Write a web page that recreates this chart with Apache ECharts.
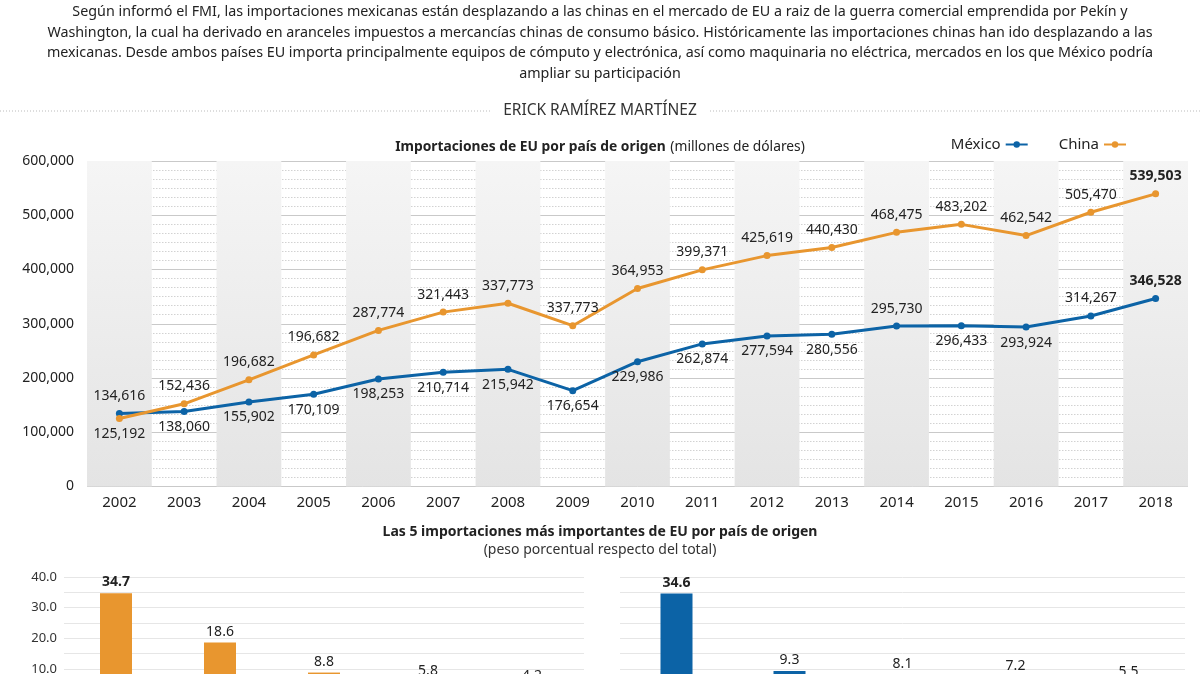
<!DOCTYPE html>
<html>
<head>
<meta charset="utf-8">
<script src="https://cdn.jsdelivr.net/npm/echarts@6/dist/echarts.min.js"></script>
<style>
html,body{margin:0;padding:0;background:#fff;overflow:hidden;}
#chart{width:1200px;height:702px;}
</style>
</head>
<body>
<div id="chart"></div>
<script>
// ---- data ----
const years = ['2002','2003','2004','2005','2006','2007','2008','2009','2010','2011','2012','2013','2014','2015','2016','2017','2018'];
const mexicoValues = [134616,138060,155902,170109,198253,210714,215942,176654,229986,262874,277594,280556,295730,296433,293924,314267,346528];
const chinaValues  = [125192,152436,196682,242500,287774,321443,337773,296400,364953,399371,425619,440430,468475,483202,462542,505470,539503];
const mexicoLabels = ['134,616','138,060','155,902','170,109','198,253','210,714','215,942','176,654','229,986','262,874','277,594','280,556','295,730','296,433','293,924','314,267','346,528'];
const chinaLabels  = ['125,192','152,436','196,682','196,682','287,774','321,443','337,773','337,773','364,953','399,371','425,619','440,430','468,475','483,202','462,542','505,470','539,503'];
const yTicks = [0,100000,200000,300000,400000,500000,600000];

const chinaTopCats  = ['Equipo de cómputo y electrónica','Equipo eléctrico','Maquinaria no eléctrica','Muebles','Productos diversos'];
const chinaTopVals  = [34.7,18.6,8.8,5.8,4.2];
const mexicoTopCats = ['Equipo de cómputo y electrónica','Equipo de transporte','Maquinaria no eléctrica','Equipo eléctrico','Petróleo y gas'];
const mexicoTopVals = [34.6,9.3,8.1,7.2,5.5];

// ---- styling helpers ----
const BLUE = '#0c63a6';
const ORANGE = '#e8962f';
const FONT = 'Noto Sans';
const mexicoAbove = new Set([0,12,15,16]);
const chinaBelow = new Set([0]);

const chart = echarts.init(document.getElementById('chart'));

function lineData(values, labels, isAbove) {
  return values.map((v, i) => ({
    value: v,
    label: {
      show: true,
      position: isAbove(i) ? 'top' : 'bottom',
      distance: isAbove(i) ? 7 : 5,
      formatter: labels[i],
      fontWeight: i === values.length - 1 ? 'bold' : 'normal'
    }
  }));
}

const shade = {type:'linear',x:0,y:0,x2:0,y2:1,colorStops:[{offset:0,color:'#f5f5f5'},{offset:1,color:'#e4e4e4'}]};

const option = {
  backgroundColor: '#fff',
  textStyle: {fontFamily: FONT},
  animation: false,
  title: [
    {
      text: 'Según informó el FMI, las importaciones mexicanas están desplazando a las chinas en el mercado de EU a raiz de la guerra comercial emprendida por Pekín y\nWashington, la cual ha derivado en aranceles impuestos a mercancías chinas de consumo básico. Históricamente las importaciones chinas han ido desplazando a las\nmexicanas. Desde ambos países EU importa principalmente equipos de cómputo y electrónica, así como maquinaria no eléctrica, mercados en los que México podría\nampliar su participación',
      left: 'center', top: 2, padding: 0,
      textStyle: {fontFamily: FONT, fontSize: 14.3, fontWeight: 'normal', color: '#222', lineHeight: 20.5}
    },
    {
      text: 'ERICK RAMÍREZ MARTÍNEZ',
      left: 'center', top: 103, padding: 0,
      textStyle: {fontFamily: FONT, fontSize: 15.5, fontWeight: 'normal', color: '#333'}
    },
    {
      text: '{b|Importaciones de EU por país de origen} {n|(millones de dólares)}',
      left: 'center', top: 138, padding: 0,
      textStyle: {rich: {
        b: {fontFamily: FONT, fontSize: 13.8, fontWeight: 'bold', color: '#222'},
        n: {fontFamily: FONT, fontSize: 13.8, fontWeight: 'normal', color: '#222'}
      }}
    },
    {
      text: 'Las 5 importaciones más importantes de EU por país de origen',
      subtext: '(peso porcentual respecto del total)',
      left: 'center', top: 525, padding: 0, itemGap: 4,
      textStyle: {fontFamily: FONT, fontSize: 14, fontWeight: 'bold', color: '#222'},
      subtextStyle: {fontFamily: FONT, fontSize: 14, color: '#333'}
    }
  ],
  graphic: [
    {type:'line', shape:{x1:0,y1:111,x2:492,y2:111}, style:{stroke:'#bbb', lineWidth:1, lineDash:[1,2]}},
    {type:'line', shape:{x1:710,y1:111,x2:1200,y2:111}, style:{stroke:'#bbb', lineWidth:1, lineDash:[1,2]}}
  ],
  legend: {
    data: ['México','China'],
    right: 68, top: 132,
    align: 'right',
    itemWidth: 22, itemHeight: 8, itemGap: 30,
    textStyle: {fontFamily: FONT, fontSize: 15, color: '#222', padding: [0, 0, 0, 0]}
  },
  grid: [
    {left: 87, top: 161, width: 1101, height: 325.5},
    {left: 64, top: 577, width: 520, height: 122.5},
    {left: 620, top: 577, width: 565, height: 122.5}
  ],
  xAxis: [
    {
      type: 'category', gridIndex: 0, data: years, boundaryGap: true,
      axisLine: {show: false}, axisTick: {show: false},
      axisLabel: {fontFamily: FONT, fontSize: 15, color: '#222', margin: 9},
      splitArea: {show: true, areaStyle: {color: [shade, 'rgba(255,255,255,0)']}}
    },
    {
      type: 'category', gridIndex: 1, data: chinaTopCats,
      axisLine: {show: false}, axisTick: {show: false}, axisLabel: {show: false}
    },
    {
      type: 'category', gridIndex: 2, data: mexicoTopCats,
      axisLine: {show: false}, axisTick: {show: false}, axisLabel: {show: false}
    }
  ],
  yAxis: [
    {
      type: 'value', gridIndex: 0, min: yTicks[0], max: yTicks[yTicks.length-1], interval: 100000,
      axisLine: {show: false}, axisTick: {show: false},
      axisLabel: {fontFamily: FONT, fontSize: 14, color: '#222', margin: 13,
        formatter: v => v.toLocaleString('en-US')},
      splitLine: {show: true, lineStyle: {color: '#c9c9c9', width: 1}},
      minorTick: {show: true, splitNumber: 6, length: 0, lineStyle: {color: 'rgba(0,0,0,0)'}},
      minorSplitLine: {show: true, lineStyle: {color: '#d2d2d2', type: [1.5, 1.5], width: 1}}
    },
    {
      type: 'value', gridIndex: 1, min: 0, max: 40, interval: 5,
      axisLine: {show: false}, axisTick: {show: false},
      axisLabel: {fontFamily: FONT, fontSize: 13, color: '#333', margin: 7,
        formatter: v => (v % 10 === 0 && v > 0) ? v.toFixed(1) : ''},
      splitLine: {lineStyle: {color: '#e6e6e6'}}
    },
    {
      type: 'value', gridIndex: 2, min: 0, max: 40, interval: 5,
      axisLine: {show: false}, axisTick: {show: false},
      axisLabel: {show: false},
      splitLine: {lineStyle: {color: '#e6e6e6'}}
    }
  ],
  series: [
    {
      name: 'México', type: 'line', xAxisIndex: 0, yAxisIndex: 0,
      data: lineData(mexicoValues, mexicoLabels, i => mexicoAbove.has(i)),
      itemStyle: {color: BLUE}, lineStyle: {color: BLUE, width: 3},
      symbol: 'circle', symbolSize: 7, z: 3,
      label: {fontFamily: FONT, fontSize: 14, color: '#222'}
    },
    {
      name: 'China', type: 'line', xAxisIndex: 0, yAxisIndex: 0,
      data: lineData(chinaValues, chinaLabels, i => !chinaBelow.has(i)),
      itemStyle: {color: ORANGE}, lineStyle: {color: ORANGE, width: 3},
      symbol: 'circle', symbolSize: 7, z: 3,
      label: {fontFamily: FONT, fontSize: 14, color: '#222'}
    },
    {
      name: 'China top', type: 'bar', xAxisIndex: 1, yAxisIndex: 1,
      data: chinaTopVals.map((v, i) => ({value: v, label: {fontWeight: i === 0 ? 'bold' : 'normal'}})),
      barWidth: 32, itemStyle: {color: ORANGE},
      label: {show: true, position: 'top', distance: 4, fontFamily: FONT, fontSize: 14, color: '#222',
        formatter: p => p.value.toFixed(1)}
    },
    {
      name: 'México top', type: 'bar', xAxisIndex: 2, yAxisIndex: 2,
      data: mexicoTopVals.map((v, i) => ({value: v, label: {fontWeight: i === 0 ? 'bold' : 'normal'}})),
      barWidth: 32, itemStyle: {color: BLUE},
      label: {show: true, position: 'top', distance: 4, fontFamily: FONT, fontSize: 14, color: '#222',
        formatter: p => p.value.toFixed(1)}
    }
  ]
};
chart.setOption(option);
</script>
</body>
</html>
